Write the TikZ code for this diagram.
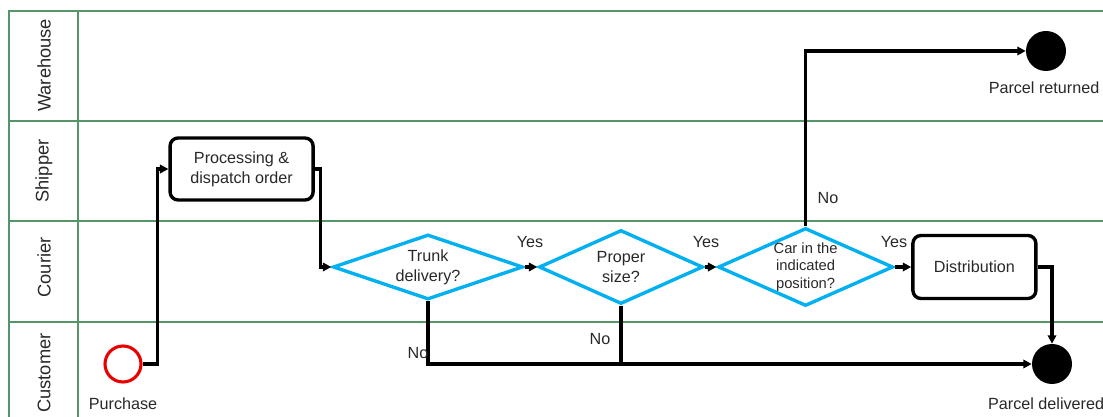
\documentclass[tikz,border=0pt]{standalone}
\usepackage{fontspec}
\setmainfont{Liberation Sans}
\usetikzlibrary{positioning}
\usetikzlibrary{shapes.geometric}
\usetikzlibrary{arrows.meta}

\definecolor{lanegreen}{RGB}{84,150,104}
\definecolor{decblue}{RGB}{0,176,240}
\definecolor{startred}{RGB}{235,0,0}
\definecolor{txtgray}{RGB}{40,40,40}

\tikzset{
  lane/.style={draw=lanegreen, line width=2pt},
  lanename/.style={rotate=90, text=txtgray, font=\fontsize{13}{15}\selectfont},
  lbl/.style={text=txtgray, font=\fontsize{11.5}{14}\selectfont},
  task/.style={draw, line width=2.4pt, rounded corners=0.2cm, align=center, lbl},
  decision/.style={diamond, draw=decblue, line width=2.4pt, inner sep=0pt, aspect=2.7, align=center, lbl},
  startev/.style={circle, draw=startred, line width=2.2pt, minimum size=0.9cm},
  endev/.style={circle, fill=black, minimum size=1.0cm},
  flow/.style={line width=2.2pt, -{Triangle[length=6pt,width=6pt]}}
}

\begin{document}
\begin{tikzpicture}
\useasboundingbox (0,0) rectangle (27.575,10.425);
\clip (0,0) rectangle (27.575,10.425);

% swimlanes
\draw[lane] (0.225,-1) rectangle (28,10.15);
\draw[lane] (1.95,-1) -- (1.95,10.15);
\foreach \y in {7.4,4.9,2.375}
  \draw[lane] (0.225,\y) -- (28,\y);
\node[lanename] (warehouse) at (1.1,8.79) {Warehouse};
\node[lanename] (shipper) at (1.1,6.15) {Shipper};
\node[lanename] (courier) at (1.1,3.74) {Courier};
\node[lanename] (customer) at (1.1,1.1) {Customer};

% events and tasks
\node[startev] (purchase) at (3.075,1.325) {};
\node[lbl] (purchaselbl) at (3.075,0.325) {Purchase};
\node[task, minimum width=3.575cm, minimum height=1.55cm] (process) at (6.04,6.2) {Processing \&\\dispatch order};
\node[decision, minimum width=4.75cm, minimum height=1.625cm] (trunk) at (10.7,3.75) {Trunk\\delivery?};
\node[decision, minimum width=4.1cm, minimum height=1.85cm] (size) at (15.525,3.75) {Proper\\size?};
\node[decision, minimum width=4.375cm, minimum height=1.8cm, aspect=2.2, font=\fontsize{10.5}{12.5}\selectfont] (carpos) at (20.14,3.75) {Car in the\\indicated\\position?};
\node[task, minimum width=3.075cm, minimum height=1.575cm] (distrib) at (24.36,3.75) {Distribution};
\node[endev] (returned) at (26.15,9.15) {};
\node[lbl] (returnedlbl) at (26.1,8.225) {Parcel returned};
\node[endev] (delivered) at (26.3,1.325) {};
\node[lbl, anchor=west] (deliveredlbl) at (24.58,0.325) {Parcel delivered};

% connectors
\draw[flow] (purchase.east) -- ++(0.375,0) |- (process.west);
\draw[flow] (process.east) -- ++(0.15,0) |- (trunk.west);
\draw[flow] (trunk.east) -- (size.west);
\draw[flow] (size.east) -- (carpos.west);
\draw[flow] (carpos.east) -- (distrib.west);
\draw[flow] (distrib.east) -| (delivered.north);
\draw[flow] (carpos.north) |- (returned.west);
\draw[flow] (trunk.south) |- (delivered.west);
\coordinate (join) at (size.south |- delivered.west);
\draw[line width=2.2pt] (size.south) -- (join);

% branch labels
\node[lbl] (yes1) at (13.25,4.375) {Yes};
\node[lbl] (yes2) at (17.65,4.375) {Yes};
\node[lbl] (yes3) at (22.35,4.375) {Yes};
\node[lbl] (no1) at (10.45,1.6) {No};
\node[lbl] (no2) at (15.0,1.95) {No};
\node[lbl] (no3) at (20.7,5.475) {No};
\end{tikzpicture}
\end{document}
